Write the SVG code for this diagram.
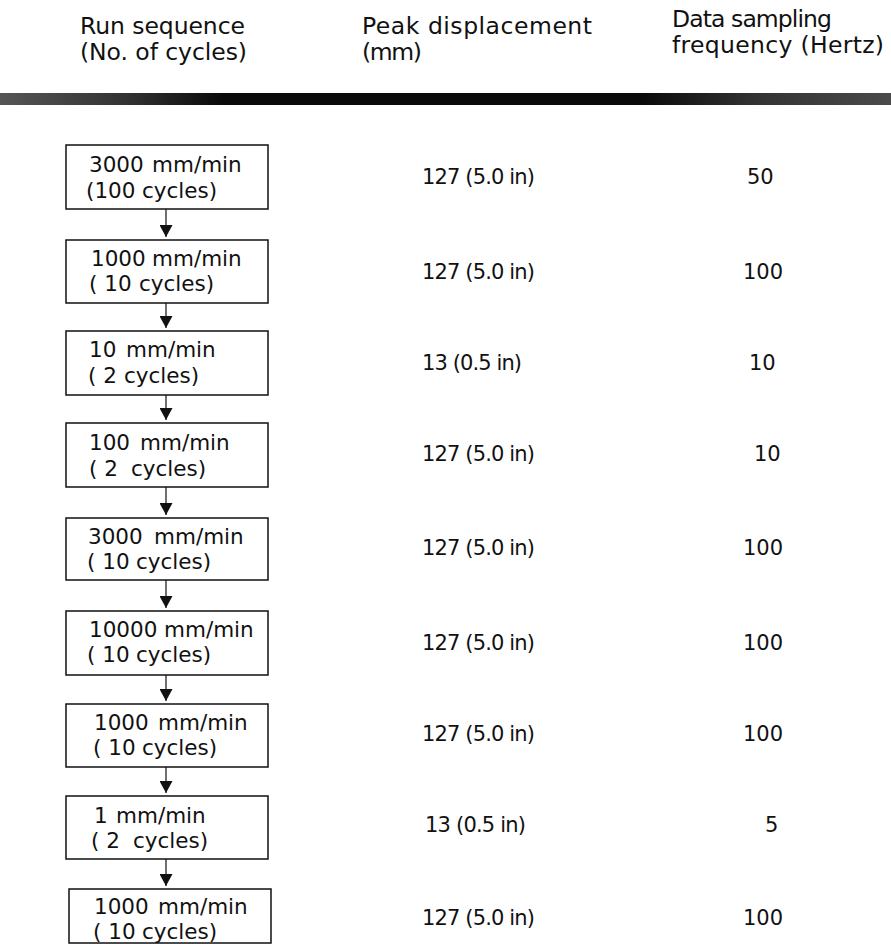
<svg xmlns="http://www.w3.org/2000/svg" width="891" height="944" viewBox="0 0 891 944">
<style>
  text { font-family: "DejaVu Sans", "Liberation Sans", sans-serif; fill: #111; }
  .hd { font-size: 23.5px; }
  .bx { font-size: 21.5px; }
  .val { font-size: 21px; }
  .box { fill: #fff; stroke: #111; stroke-width: 1.5; }
  .conn line { stroke: #111; stroke-width: 1.2; marker-end: url(#arr); }
</style>
<defs>
  <marker id="arr" markerUnits="userSpaceOnUse" markerWidth="13" markerHeight="13" refX="12" refY="6.5" orient="auto">
    <path d="M0,0 L12,6.5 L0,13 z" fill="#111"/>
  </marker>
  <linearGradient id="barg" x1="0" y1="0" x2="1" y2="0">
    <stop offset="0" stop-color="#555"/>
    <stop offset="0.14" stop-color="#333"/>
    <stop offset="0.25" stop-color="#0a0a0a"/>
    <stop offset="0.72" stop-color="#0a0a0a"/>
    <stop offset="0.85" stop-color="#333"/>
    <stop offset="1" stop-color="#4a4a4a"/>
  </linearGradient>
</defs>
<rect width="891" height="944" fill="#fff"/>

<g id="header">
  <text class="hd" x="80" y="34" textLength="165">Run sequence</text>
  <text class="hd" x="80" y="60" textLength="167">(No. of cycles)</text>
  <text class="hd" x="362" y="34" textLength="230">Peak displacement</text>
  <text class="hd" x="362" y="60" textLength="60">(mm)</text>
  <text class="hd" x="672" y="27" textLength="160">Data sampling</text>
  <text class="hd" x="672" y="53" textLength="212">frequency (Hertz)</text>
</g>
<rect id="bar" x="0" y="93" width="891" height="12" fill="url(#barg)"/>

<g class="conn" id="connectors">
  <line x1="166" y1="209" x2="166" y2="237"/>
  <line x1="166" y1="303" x2="166" y2="328"/>
  <line x1="166" y1="395" x2="166" y2="420"/>
  <line x1="166" y1="487" x2="166" y2="515"/>
  <line x1="166" y1="580" x2="166" y2="608"/>
  <line x1="166" y1="675" x2="166" y2="701"/>
  <line x1="166" y1="767" x2="166" y2="793"/>
  <line x1="166" y1="859" x2="166" y2="886"/>
</g>

<g id="n1">
  <rect class="box" x="66" y="145" width="202" height="64"/>
  <text class="bx" x="89" y="172">3000 <tspan x="152">mm/min</tspan></text>
  <text class="bx" x="86" y="198">(100 <tspan x="142">cycles)</tspan></text>
</g>
<g id="n2">
  <rect class="box" x="66" y="240" width="202" height="63"/>
  <text class="bx" x="91" y="266">1000 <tspan x="152">mm/min</tspan></text>
  <text class="bx" x="89" y="291">( 10 <tspan x="139">cycles)</tspan></text>
</g>
<g id="n3">
  <rect class="box" x="66" y="331" width="202" height="64"/>
  <text class="bx" x="89" y="357">10 <tspan x="126">mm/min</tspan></text>
  <text class="bx" x="88" y="383">( 2 <tspan x="124">cycles)</tspan></text>
</g>
<g id="n4">
  <rect class="box" x="66" y="423" width="202" height="64"/>
  <text class="bx" x="89" y="450">100 <tspan x="140">mm/min</tspan></text>
  <text class="bx" x="89" y="476">( 2 <tspan x="131">cycles)</tspan></text>
</g>
<g id="n5">
  <rect class="box" x="66" y="518" width="202" height="62"/>
  <text class="bx" x="88" y="544">3000 <tspan x="154">mm/min</tspan></text>
  <text class="bx" x="87" y="569">( 10 <tspan x="136">cycles)</tspan></text>
</g>
<g id="n6">
  <rect class="box" x="66" y="611" width="202" height="64"/>
  <text class="bx" x="89" y="637">10000 <tspan x="164">mm/min</tspan></text>
  <text class="bx" x="87" y="662">( 10 <tspan x="136">cycles)</tspan></text>
</g>
<g id="n7">
  <rect class="box" x="66" y="704" width="202" height="63"/>
  <text class="bx" x="94" y="730">1000 <tspan x="158">mm/min</tspan></text>
  <text class="bx" x="93" y="755">( 10 <tspan x="142">cycles)</tspan></text>
</g>
<g id="n8">
  <rect class="box" x="66" y="796" width="202" height="63"/>
  <text class="bx" x="94" y="823">1 <tspan x="116">mm/min</tspan></text>
  <text class="bx" x="91" y="848">( 2 <tspan x="133">cycles)</tspan></text>
</g>
<g id="n9">
  <rect class="box" x="69" y="889" width="202" height="54"/>
  <text class="bx" x="94" y="914">1000 <tspan x="158">mm/min</tspan></text>
  <text class="bx" x="93" y="939">( 10 <tspan x="142">cycles)</tspan></text>
</g>

<g id="displacement">
  <text class="val" x="422" y="184" textLength="113">127 (5.0 in)</text>
  <text class="val" x="422" y="279" textLength="113">127 (5.0 in)</text>
  <text class="val" x="422" y="370" textLength="100">13 (0.5 in)</text>
  <text class="val" x="422" y="461" textLength="113">127 (5.0 in)</text>
  <text class="val" x="422" y="555" textLength="113">127 (5.0 in)</text>
  <text class="val" x="422" y="650" textLength="113">127 (5.0 in)</text>
  <text class="val" x="422" y="741" textLength="113">127 (5.0 in)</text>
  <text class="val" x="425" y="832" textLength="101">13 (0.5 in)</text>
  <text class="val" x="422" y="925" textLength="113">127 (5.0 in)</text>
</g>

<g id="frequency">
  <text class="val" x="747" y="184">50</text>
  <text class="val" x="743" y="279">100</text>
  <text class="val" x="749" y="370">10</text>
  <text class="val" x="754" y="461">10</text>
  <text class="val" x="743" y="555">100</text>
  <text class="val" x="743" y="650">100</text>
  <text class="val" x="743" y="741">100</text>
  <text class="val" x="765" y="832">5</text>
  <text class="val" x="743" y="925">100</text>
</g>
</svg>
